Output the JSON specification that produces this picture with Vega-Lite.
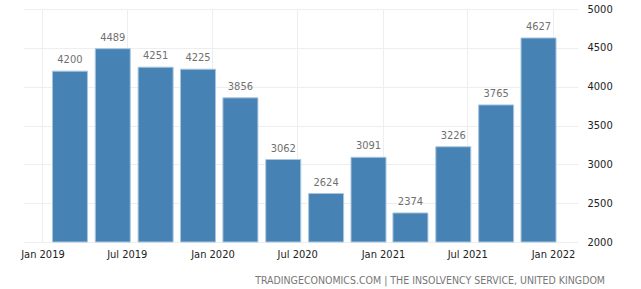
{
  "$schema": "https://vega.github.io/schema/vega-lite/v6.json",
  "width": 555,
  "height": 233,
  "autosize": {"type": "none"},
  "padding": {"left": 23, "top": 9, "right": 63, "bottom": 47},
  "background": "white",
  "title": {
    "text": "TRADINGECONOMICS.COM | THE INSOLVENCY SERVICE, UNITED KINGDOM",
    "orient": "bottom",
    "anchor": "end",
    "frame": "group",
    "dx": 27,
    "offset": 17,
    "font": "DejaVu Sans Condensed",
    "fontSize": 10.5,
    "fontWeight": "normal",
    "color": "#777777"
  },
  "config": {
    "view": {"stroke": null},
    "font": "DejaVu Sans"
  },
  "data": {
    "values": [
      {"date": "2019-03-01", "value": 4200},
      {"date": "2019-06-01", "value": 4489},
      {"date": "2019-09-01", "value": 4251},
      {"date": "2019-12-01", "value": 4225},
      {"date": "2020-03-01", "value": 3856},
      {"date": "2020-06-01", "value": 3062},
      {"date": "2020-09-01", "value": 2624},
      {"date": "2020-12-01", "value": 3091},
      {"date": "2021-03-01", "value": 2374},
      {"date": "2021-06-01", "value": 3226},
      {"date": "2021-09-01", "value": 3765},
      {"date": "2021-12-01", "value": 4627}
    ]
  },
  "encoding": {
    "x": {
      "field": "date",
      "type": "temporal",
      "scale": {"domain": ["2018-12-01", "2022-02-13"]},
      "axis": {
        "values": ["2019-01-01", "2019-07-01", "2020-01-01", "2020-07-01", "2021-01-01", "2021-07-01", "2022-01-01"],
        "format": "%b %Y",
        "title": null,
        "grid": true,
        "gridColor": "#eeeeee",
        "domain": false,
        "ticks": false,
        "labelPadding": 6,
        "labelFontSize": 11,
        "labelColor": "#222222",
        "labelFont": "DejaVu Sans Condensed"
      }
    },
    "y": {
      "field": "value",
      "type": "quantitative",
      "scale": {"domain": [2000, 5000], "zero": false, "nice": false},
      "axis": {
        "orient": "right",
        "values": [2000, 2500, 3000, 3500, 4000, 4500, 5000],
        "title": null,
        "grid": true,
        "gridColor": "#eeeeee",
        "domain": false,
        "ticks": false,
        "labelPadding": 9,
        "labelFontSize": 11,
        "labelColor": "#222222",
        "labelFont": "DejaVu Sans Condensed",
        "format": "d"
      }
    }
  },
  "layer": [
    {
      "mark": {"type": "bar", "width": 35, "color": "#4682b4", "stroke": "#a9c6e0", "strokeWidth": 1},
      "encoding": {"y2": {"datum": 2000}}
    },
    {
      "mark": {"type": "text", "dy": -11, "fontSize": 11, "color": "#707070", "font": "DejaVu Sans Condensed"},
      "encoding": {"text": {"field": "value", "type": "quantitative", "format": "d"}}
    }
  ]
}
